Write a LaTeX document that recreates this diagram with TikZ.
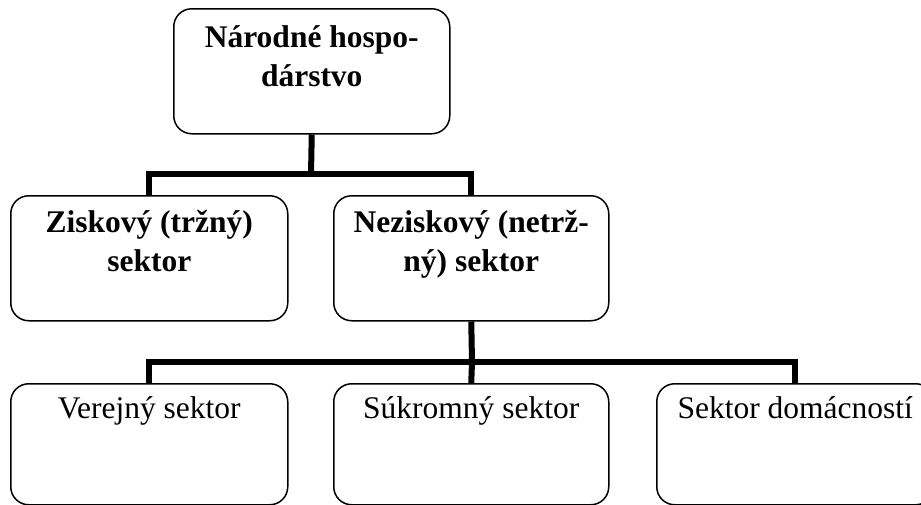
\documentclass[tikz,border=0pt]{standalone}
\usepackage{fontspec}
\setmainfont{Liberation Serif}
\begin{document}
\begin{tikzpicture}[x=1pt,y=-1pt,
  box/.style={draw,line width=1.5pt,rounded corners=18pt,inner sep=0pt,anchor=north west},
  conn/.style={line width=6pt}]
\useasboundingbox (0,0) rectangle (921,504);
\newcommand{\boxtxt}[4]{\parbox[t][#2pt][t]{#1pt}{\vspace{#3pt}\centering\fontsize{31.5}{39}\selectfont #4\par}}
\node[box] (top) at (173,8) {\boxtxt{276}{125}{17}{\bfseries Národné hospo-\\dárstvo}};
\node[box] (zisk) at (10,195) {\boxtxt{277}{125}{15}{\bfseries Ziskový (tržný)\\sektor}};
\node[box] (nezisk) at (333,195) {\boxtxt{275}{125}{15}{\bfseries Neziskový (netrž-\\ný) sektor}};
\node[box] (ver) at (10,383) {\boxtxt{277}{121}{13}{Verejný sektor}};
\node[box] (suk) at (333,383) {\boxtxt{275}{121}{13}{Súkromný sektor}};
\node[box] (dom) at (656,383) {\boxtxt{277}{121}{13}{Sektor domácností}};
\coordinate (j1) at (311,174);
\coordinate (j2) at (472,362);
\draw[conn] (top.south) -- (j1);
\draw[conn] (zisk.north) |- (j1) -| (nezisk.north);
\draw[conn] (nezisk.south) -- (j2);
\draw[conn] (ver.north) |- (j2);
\draw[conn] (j2) -- (suk.north);
\draw[conn] (j2) -| (dom.north);
\end{tikzpicture}
\end{document}
